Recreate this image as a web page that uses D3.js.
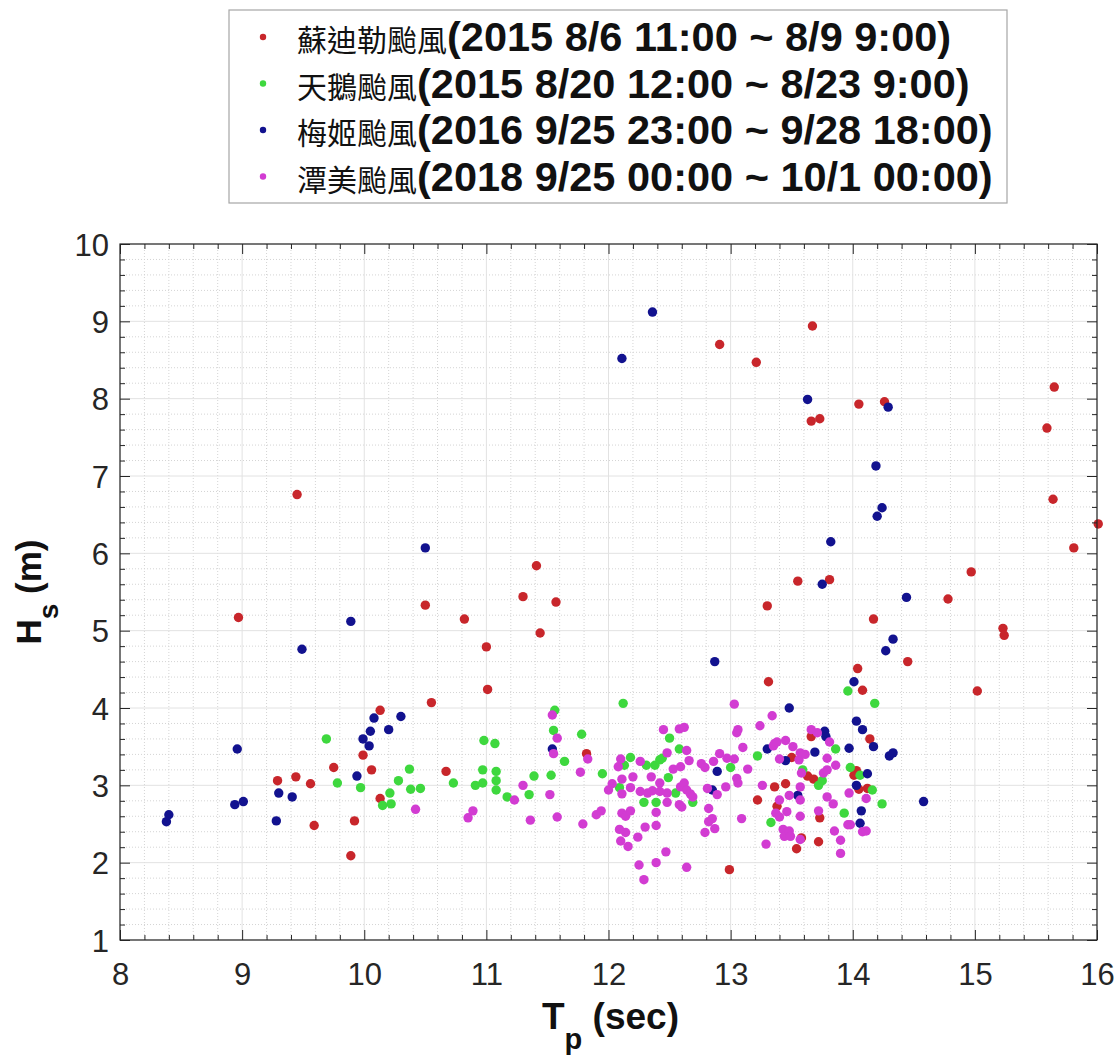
<!DOCTYPE html>
<html>
<head>
<meta charset="utf-8">
<script src="https://cdn.jsdelivr.net/npm/d3@7"></script>
<style>
  body { margin: 0; background: #fff; }
  svg { display: block; }
</style>
</head>
<body>
<svg id="chart" width="1116" height="1057"></svg>
<script>
// Peak period Tp (sec) vs significant wave height Hs (m), one array per typhoon.
const soudelor = [
  [8.97,5.17],[9.29,3.06],[9.44,3.11],[9.45,6.76],[9.56,3.02],[9.59,2.48],[9.75,3.23],[9.89,2.09],
  [9.92,2.54],[9.99,3.39],[10.06,3.20],[10.13,3.97],[10.13,2.83],[10.50,5.33],[10.55,4.07],[10.67,3.18],
  [10.82,5.15],[11.00,4.79],[11.01,4.24],[11.30,5.44],[11.41,5.84],[11.44,4.97],[11.57,5.37],[11.82,3.41],
  [12.91,8.70],[12.99,1.91],[13.21,8.47],[13.22,2.81],[13.30,5.32],[13.31,4.34],[13.36,2.98],[13.38,2.73],
  [13.45,3.02],[13.50,3.36],[13.54,2.18],[13.55,5.64],[13.58,2.32],[13.63,3.12],[13.66,7.71],[13.66,3.63],
  [13.67,8.94],[13.68,3.08],[13.72,2.27],[13.73,7.74],[13.73,2.58],[13.81,5.66],[14.01,3.13],[14.03,3.19],
  [14.04,4.51],[14.05,7.93],[14.05,2.95],[14.08,4.23],[14.12,2.96],[14.14,3.60],[14.17,5.15],[14.26,7.96],
  [14.45,4.60],[14.78,5.41],[14.97,5.76],[15.02,4.22],[15.23,5.03],[15.24,4.94],[15.59,7.62],[15.64,6.70],
  [15.65,8.15],[15.81,6.07],[16.01,6.38]
];
const goni = [
  [9.69,3.60],[9.78,3.03],[9.97,2.97],[10.15,2.74],[10.21,2.90],[10.22,2.76],[10.28,3.06],[10.37,3.21],
  [10.38,2.95],[10.46,2.96],[10.73,3.03],[10.91,3.00],[10.97,3.03],[10.97,3.20],[10.98,3.58],[11.07,3.54],
  [11.08,3.18],[11.08,3.06],[11.08,2.94],[11.17,2.85],[11.35,2.88],[11.39,3.12],[11.53,3.13],[11.55,3.71],
  [11.56,3.97],[11.64,3.31],[11.78,3.66],[11.95,3.15],[12.09,2.97],[12.12,4.06],[12.13,3.26],[12.18,3.36],
  [12.29,2.78],[12.31,3.26],[12.38,3.26],[12.39,2.78],[12.42,3.33],[12.44,3.35],[12.49,3.10],[12.50,3.61],
  [12.55,2.90],[12.58,3.47],[12.69,2.78],[13.00,3.23],[13.22,3.38],[13.33,2.52],[13.59,3.20],[13.72,3.00],
  [13.75,3.06],[13.86,3.47],[13.93,2.64],[13.96,4.22],[13.98,3.23],[14.06,3.13],[14.16,2.94],[14.18,4.06],
  [14.24,2.76]
];
const megi = [
  [8.38,2.53],[8.40,2.62],[8.94,2.75],[8.96,3.47],[9.01,2.79],[9.28,2.54],[9.30,2.90],[9.41,2.85],
  [9.49,4.76],[9.89,5.12],[9.94,3.12],[9.99,3.60],[10.04,3.51],[10.05,3.70],[10.08,3.87],[10.20,3.72],
  [10.30,3.89],[10.50,6.07],[11.54,3.47],[12.11,8.52],[12.36,9.12],[12.85,2.94],[12.87,4.60],[12.89,3.18],
  [13.30,3.47],[13.45,3.32],[13.48,4.00],[13.55,2.87],[13.63,7.99],[13.69,3.43],[13.75,5.60],[13.77,3.70],
  [13.78,3.63],[13.82,6.15],[13.97,3.48],[14.01,4.34],[14.03,3.83],[14.03,3.00],[14.06,2.51],[14.07,2.67],
  [14.08,3.72],[14.12,3.15],[14.17,3.50],[14.19,7.13],[14.20,6.48],[14.24,6.59],[14.27,4.74],[14.29,7.89],
  [14.30,3.38],[14.33,3.42],[14.33,4.89],[14.44,5.43],[14.58,2.79]
];
const trami = [
  [10.42,2.69],[10.85,2.58],[10.89,2.67],[11.23,2.81],[11.30,3.00],[11.36,2.55],[11.52,2.88],[11.54,3.91],
  [11.55,3.41],[11.58,3.61],[11.58,2.59],[11.77,3.17],[11.79,2.50],[11.83,3.34],[11.90,2.62],[11.94,2.67],
  [12.00,2.94],[12.03,3.02],[12.08,3.24],[12.09,2.43],[12.10,3.34],[12.10,2.28],[12.11,3.08],[12.11,2.89],
  [12.11,2.64],[12.14,2.60],[12.14,2.39],[12.16,2.21],[12.18,2.97],[12.18,2.67],[12.20,3.11],[12.24,2.33],
  [12.25,1.97],[12.26,3.31],[12.26,2.92],[12.29,1.78],[12.30,2.46],[12.32,2.90],[12.35,3.11],[12.36,2.93],
  [12.39,2.65],[12.39,2.48],[12.39,2.00],[12.42,3.03],[12.42,2.92],[12.45,3.72],[12.47,2.14],[12.48,3.42],
  [12.48,2.90],[12.48,2.78],[12.53,3.21],[12.58,3.73],[12.58,2.75],[12.59,3.24],[12.59,2.98],[12.60,2.72],
  [12.62,3.75],[12.62,3.03],[12.64,3.45],[12.64,2.94],[12.64,1.94],[12.66,3.32],[12.67,2.89],[12.69,2.85],
  [12.76,3.28],[12.79,3.23],[12.79,2.39],[12.81,2.96],[12.82,2.70],[12.82,2.53],[12.85,2.57],[12.86,3.31],
  [12.87,2.44],[12.89,2.88],[12.91,3.41],[12.96,2.98],[12.97,3.35],[13.03,4.05],[13.03,3.34],[13.05,3.68],
  [13.05,3.09],[13.06,3.72],[13.06,3.03],[13.09,2.57],[13.10,3.49],[13.14,3.21],[13.24,3.77],[13.26,3.00],
  [13.29,2.24],[13.34,3.90],[13.35,3.51],[13.36,3.54],[13.37,2.64],[13.38,3.56],[13.40,3.34],[13.40,2.81],
  [13.40,2.59],[13.43,2.43],[13.44,2.34],[13.45,3.58],[13.46,2.66],[13.48,2.87],[13.48,2.41],[13.49,2.34],
  [13.51,3.50],[13.56,3.33],[13.57,3.42],[13.57,2.98],[13.57,2.81],[13.57,2.60],[13.57,2.30],[13.58,3.16],
  [13.61,3.40],[13.66,3.72],[13.71,3.68],[13.72,2.67],[13.76,3.16],[13.79,3.35],[13.79,3.20],[13.79,2.85],
  [13.81,3.56],[13.84,2.76],[13.85,2.41],[13.86,3.26],[13.90,2.29],[13.90,2.12],[13.96,2.49],[13.97,2.90],
  [13.98,2.49],[14.08,2.40],[14.11,2.83],[14.11,2.41]
];

const seriesNames = ["蘇迪勒颱風", "天鵝颱風", "梅姬颱風", "潭美颱風"];
const seriesPeriods = [
  "(2015 8/6 11:00 ~ 8/9 9:00)",
  "(2015 8/20 12:00 ~ 8/23 9:00)",
  "(2016 9/25 23:00 ~ 9/28 18:00)",
  "(2018 9/25 00:00 ~ 10/1 00:00)"
];
const seriesColors = ["#c8262b", "#3ed83e", "#12128f", "#d23cd2"];
const seriesData = [soudelor, goni, megi, trami];

const xTicks = [8, 9, 10, 11, 12, 13, 14, 15, 16];
const yTicks = [1, 2, 3, 4, 5, 6, 7, 8, 9, 10];
const xTitle = { main: "T", sub: "p", tail: " (sec)" };
const yTitle = { main: "H", sub: "s", tail: " (m)" };

const svg = d3.select("#chart");
const plot = { left: 120, right: 1097, top: 244, bottom: 940 };

const x = d3.scaleLinear().domain([8, 16]).range([plot.left, plot.right]);
const y = d3.scaleLinear().domain([1, 10]).range([plot.bottom, plot.top]);

const axisColor = "#262626";
const xMinor = d3.range(8, 16.001, 0.2).map(v => +v.toFixed(1)).filter(v => !xTicks.includes(v));
const yMinor = d3.range(1, 10.001, 0.2).map(v => +v.toFixed(1)).filter(v => !yTicks.includes(v));

// grid: dotted minor lines, solid light major lines
const grid = svg.append("g");
grid.selectAll(".gxm").data(xMinor).join("line")
  .attr("x1", d => x(d)).attr("x2", d => x(d))
  .attr("y1", plot.top).attr("y2", plot.bottom)
  .attr("stroke", "#d4d4d4").attr("stroke-width", 1).attr("stroke-dasharray", "1,2");
grid.selectAll(".gym").data(yMinor).join("line")
  .attr("y1", d => y(d)).attr("y2", d => y(d))
  .attr("x1", plot.left).attr("x2", plot.right)
  .attr("stroke", "#d4d4d4").attr("stroke-width", 1).attr("stroke-dasharray", "1,2");
grid.selectAll(".gx").data(xTicks).join("line")
  .attr("x1", d => x(d)).attr("x2", d => x(d))
  .attr("y1", plot.top).attr("y2", plot.bottom)
  .attr("stroke", "#e2e2e2").attr("stroke-width", 1);
grid.selectAll(".gy").data(yTicks).join("line")
  .attr("y1", d => y(d)).attr("y2", d => y(d))
  .attr("x1", plot.left).attr("x2", plot.right)
  .attr("stroke", "#e2e2e2").attr("stroke-width", 1);

// scatter points, drawn in series order
seriesData.forEach((pts, i) => {
  svg.append("g").selectAll("circle").data(pts).join("circle")
    .attr("cx", d => x(d[0]))
    .attr("cy", d => y(d[1]))
    .attr("r", 4.7)
    .attr("fill", seriesColors[i]);
});

// axes with inward ticks on all four sides
function styleAxis(g) {
  g.selectAll(".domain").remove();
  g.selectAll(".tick line").attr("stroke", axisColor).attr("stroke-width", 1);
}
const major = 10, minor = 5;
svg.append("g").attr("transform", `translate(0,${plot.bottom})`)
  .call(d3.axisBottom(x).tickValues(xMinor).tickSize(-minor).tickFormat(""))
  .call(styleAxis);
svg.append("g").attr("transform", `translate(0,${plot.top})`)
  .call(d3.axisTop(x).tickValues(xMinor).tickSize(-minor).tickFormat(""))
  .call(styleAxis);
svg.append("g").attr("transform", `translate(${plot.left},0)`)
  .call(d3.axisLeft(y).tickValues(yMinor).tickSize(-minor).tickFormat(""))
  .call(styleAxis);
svg.append("g").attr("transform", `translate(${plot.right},0)`)
  .call(d3.axisRight(y).tickValues(yMinor).tickSize(-minor).tickFormat(""))
  .call(styleAxis);

const xAxis = svg.append("g").attr("transform", `translate(0,${plot.bottom})`)
  .call(d3.axisBottom(x).tickValues(xTicks).tickSize(-major).tickPadding(0).tickFormat(d3.format("d")))
  .call(styleAxis);
xAxis.selectAll(".tick text")
  .attr("y", 45).attr("dy", 0)
  .attr("fill", axisColor)
  .style("font-family", "'Liberation Sans', Arial, sans-serif")
  .style("font-size", "31px");
svg.append("g").attr("transform", `translate(0,${plot.top})`)
  .call(d3.axisTop(x).tickValues(xTicks).tickSize(-major).tickFormat(""))
  .call(styleAxis);

const yAxis = svg.append("g").attr("transform", `translate(${plot.left},0)`)
  .call(d3.axisLeft(y).tickValues(yTicks).tickSize(-major).tickFormat(d3.format("d")))
  .call(styleAxis);
yAxis.selectAll(".tick text")
  .attr("x", -11).attr("dy", "0.36em")
  .attr("fill", axisColor)
  .style("font-family", "'Liberation Sans', Arial, sans-serif")
  .style("font-size", "31px");
svg.append("g").attr("transform", `translate(${plot.right},0)`)
  .call(d3.axisRight(y).tickValues(yTicks).tickSize(-major).tickFormat(""))
  .call(styleAxis);

// plot frame
svg.append("rect")
  .attr("x", plot.left).attr("y", plot.top)
  .attr("width", plot.right - plot.left).attr("height", plot.bottom - plot.top)
  .attr("fill", "none").attr("stroke", axisColor).attr("stroke-width", 1.2);

// axis titles with subscripts
const titleFont = "'Liberation Sans', Arial, sans-serif";
const xt = svg.append("text")
  .attr("x", (plot.left + plot.right) / 2 + 2).attr("y", 1029)
  .attr("text-anchor", "middle")
  .attr("fill", "#111")
  .style("font-family", titleFont).style("font-weight", "bold").style("font-size", "37px");
xt.append("tspan").text(xTitle.main);
xt.append("tspan").attr("dy", 20).style("font-size", "29px").text(xTitle.sub);
xt.append("tspan").attr("dy", -20).text(xTitle.tail);

const yt = svg.append("text")
  .attr("transform", `translate(41,${(plot.top + plot.bottom) / 2}) rotate(-90)`)
  .attr("text-anchor", "middle")
  .attr("fill", "#111")
  .style("font-family", titleFont).style("font-weight", "bold").style("font-size", "35px");
yt.append("tspan").text(yTitle.main);
yt.append("tspan").attr("dy", 17).style("font-size", "28px").text(yTitle.sub);
yt.append("tspan").attr("dy", -17).text(yTitle.tail);

// legend
const legend = { left: 229, top: 10, right: 1007, bottom: 203 };
svg.append("rect")
  .attr("x", legend.left).attr("y", legend.top)
  .attr("width", legend.right - legend.left).attr("height", legend.bottom - legend.top)
  .attr("fill", "#fff").attr("stroke", "#a6a6a6").attr("stroke-width", 1.2);

const rowGap = 46.5;
seriesNames.forEach((name, i) => {
  const cy = 37 + i * rowGap;
  svg.append("circle").attr("cx", 263).attr("cy", cy).attr("r", 3.2).attr("fill", seriesColors[i]);
  const t = svg.append("text")
    .attr("x", 297).attr("y", cy + 14)
    .attr("fill", "#111");
  t.append("tspan")
    .style("font-family", "'Noto Sans CJK TC', 'Noto Sans CJK SC', sans-serif")
    .style("font-size", "30px").style("font-weight", "400")
    .text(name);
  t.append("tspan")
    .style("font-family", "'Liberation Sans', Arial, sans-serif")
    .style("font-size", "41.5px").style("font-weight", "bold")
    .text(seriesPeriods[i]);
});
</script>
</body>
</html>
